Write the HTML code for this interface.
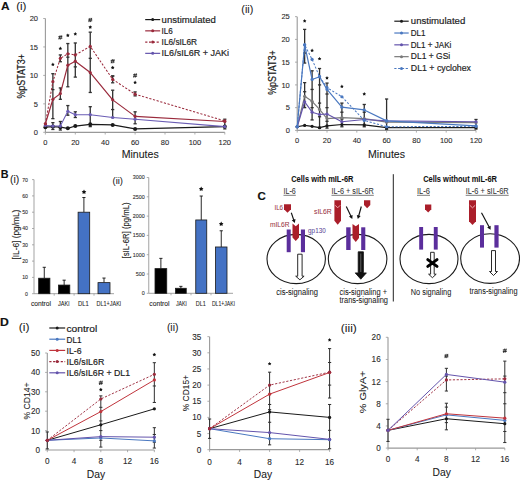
<!DOCTYPE html><html><head><meta charset="utf-8"><style>html,body{margin:0;padding:0;background:#fff;}svg{display:block;}text{font-family:"Liberation Sans",sans-serif;}</style></head><body>
<svg width="520" height="480" viewBox="0 0 520 480">
<rect width="520" height="480" fill="#fff"/>
<text x="1.00" y="9.80" font-size="10.60" font-weight="bold" fill="#111" stroke="#111" stroke-width="0.1" textLength="8.60" lengthAdjust="spacingAndGlyphs" >A</text>
<text x="16.20" y="9.60" font-size="10.60" fill="#222" stroke="#222" stroke-width="0.05" textLength="10.30" lengthAdjust="spacingAndGlyphs" >(i)</text>
<line x1="45.40" y1="18.50" x2="45.40" y2="132.30" stroke="#999999" stroke-width="1.1" />
<line x1="45.40" y1="132.30" x2="224.80" y2="132.30" stroke="#999999" stroke-width="1.2" />
<line x1="43.20" y1="132.30" x2="45.40" y2="132.30" stroke="#999999" stroke-width="0.8" />
<text x="38.00" y="135.00" font-size="7.50" text-anchor="end" fill="#2a2a2a" stroke="#2a2a2a" stroke-width="0.1" >0</text>
<line x1="43.20" y1="103.85" x2="45.40" y2="103.85" stroke="#999999" stroke-width="0.8" />
<text x="38.00" y="106.55" font-size="7.50" text-anchor="end" fill="#2a2a2a" stroke="#2a2a2a" stroke-width="0.1" >5</text>
<line x1="43.20" y1="75.40" x2="45.40" y2="75.40" stroke="#999999" stroke-width="0.8" />
<text x="38.00" y="78.10" font-size="7.50" text-anchor="end" fill="#2a2a2a" stroke="#2a2a2a" stroke-width="0.1" >10</text>
<line x1="43.20" y1="46.95" x2="45.40" y2="46.95" stroke="#999999" stroke-width="0.8" />
<text x="38.00" y="49.65" font-size="7.50" text-anchor="end" fill="#2a2a2a" stroke="#2a2a2a" stroke-width="0.1" >15</text>
<line x1="43.20" y1="18.50" x2="45.40" y2="18.50" stroke="#999999" stroke-width="0.8" />
<text x="38.00" y="21.20" font-size="7.50" text-anchor="end" fill="#2a2a2a" stroke="#2a2a2a" stroke-width="0.1" >20</text>
<line x1="45.40" y1="132.30" x2="45.40" y2="134.50" stroke="#999999" stroke-width="0.8" />
<text x="45.40" y="145.20" font-size="7.50" text-anchor="middle" fill="#2a2a2a" stroke="#2a2a2a" stroke-width="0.1" >0</text>
<line x1="75.30" y1="132.30" x2="75.30" y2="134.50" stroke="#999999" stroke-width="0.8" />
<text x="75.30" y="145.20" font-size="7.50" text-anchor="middle" fill="#2a2a2a" stroke="#2a2a2a" stroke-width="0.1" >20</text>
<line x1="105.20" y1="132.30" x2="105.20" y2="134.50" stroke="#999999" stroke-width="0.8" />
<text x="105.20" y="145.20" font-size="7.50" text-anchor="middle" fill="#2a2a2a" stroke="#2a2a2a" stroke-width="0.1" >40</text>
<line x1="135.10" y1="132.30" x2="135.10" y2="134.50" stroke="#999999" stroke-width="0.8" />
<text x="135.10" y="145.20" font-size="7.50" text-anchor="middle" fill="#2a2a2a" stroke="#2a2a2a" stroke-width="0.1" >60</text>
<line x1="165.00" y1="132.30" x2="165.00" y2="134.50" stroke="#999999" stroke-width="0.8" />
<text x="165.00" y="145.20" font-size="7.50" text-anchor="middle" fill="#2a2a2a" stroke="#2a2a2a" stroke-width="0.1" >80</text>
<line x1="194.90" y1="132.30" x2="194.90" y2="134.50" stroke="#999999" stroke-width="0.8" />
<text x="194.90" y="145.20" font-size="7.50" text-anchor="middle" fill="#2a2a2a" stroke="#2a2a2a" stroke-width="0.1" >100</text>
<line x1="224.80" y1="132.30" x2="224.80" y2="134.50" stroke="#999999" stroke-width="0.8" />
<text x="224.80" y="145.20" font-size="7.50" text-anchor="middle" fill="#2a2a2a" stroke="#2a2a2a" stroke-width="0.1" >120</text>
<text x="121.70" y="157.70" font-size="10.20" fill="#1a1a1a" stroke="#1a1a1a" stroke-width="0.08" textLength="37.00" lengthAdjust="spacingAndGlyphs" >Minutes</text>
<text x="24.90" y="76.30" font-size="10.80" text-anchor="middle" fill="#1a1a1a" stroke="#1a1a1a" stroke-width="0.2" textLength="44.50" lengthAdjust="spacingAndGlyphs" transform="rotate(-90 24.90 76.30)" >%pSTAT3+</text>
<line x1="52.88" y1="73.69" x2="52.88" y2="118.64" stroke="#303030" stroke-width="1.3" />
<line x1="51.27" y1="73.69" x2="54.48" y2="73.69" stroke="#303030" stroke-width="1.3" />
<line x1="51.27" y1="118.64" x2="54.48" y2="118.64" stroke="#303030" stroke-width="1.3" />
<line x1="51.27" y1="89.62" x2="54.48" y2="89.62" stroke="#303030" stroke-width="1.3" />
<line x1="60.35" y1="87.92" x2="60.35" y2="99.30" stroke="#303030" stroke-width="1.3" />
<line x1="58.75" y1="87.92" x2="61.95" y2="87.92" stroke="#303030" stroke-width="1.3" />
<line x1="58.75" y1="99.30" x2="61.95" y2="99.30" stroke="#303030" stroke-width="1.3" />
<line x1="60.35" y1="54.92" x2="60.35" y2="61.74" stroke="#303030" stroke-width="1.3" />
<line x1="58.75" y1="54.92" x2="61.95" y2="54.92" stroke="#303030" stroke-width="1.3" />
<line x1="58.75" y1="61.74" x2="61.95" y2="61.74" stroke="#303030" stroke-width="1.3" />
<line x1="112.68" y1="75.97" x2="112.68" y2="82.80" stroke="#303030" stroke-width="1.3" />
<line x1="111.08" y1="75.97" x2="114.28" y2="75.97" stroke="#303030" stroke-width="1.3" />
<line x1="111.08" y1="82.80" x2="114.28" y2="82.80" stroke="#303030" stroke-width="1.3" />
<line x1="135.10" y1="91.90" x2="135.10" y2="95.88" stroke="#303030" stroke-width="1.3" />
<line x1="133.50" y1="91.90" x2="136.70" y2="91.90" stroke="#303030" stroke-width="1.3" />
<line x1="133.50" y1="95.88" x2="136.70" y2="95.88" stroke="#303030" stroke-width="1.3" />
<line x1="67.83" y1="43.54" x2="67.83" y2="86.78" stroke="#303030" stroke-width="1.3" />
<line x1="66.23" y1="43.54" x2="69.42" y2="43.54" stroke="#303030" stroke-width="1.3" />
<line x1="66.23" y1="86.78" x2="69.42" y2="86.78" stroke="#303030" stroke-width="1.3" />
<line x1="66.23" y1="57.19" x2="69.42" y2="57.19" stroke="#303030" stroke-width="1.3" />
<line x1="75.30" y1="42.97" x2="75.30" y2="77.11" stroke="#303030" stroke-width="1.3" />
<line x1="73.70" y1="42.97" x2="76.90" y2="42.97" stroke="#303030" stroke-width="1.3" />
<line x1="73.70" y1="77.11" x2="76.90" y2="77.11" stroke="#303030" stroke-width="1.3" />
<line x1="73.70" y1="66.87" x2="76.90" y2="66.87" stroke="#303030" stroke-width="1.3" />
<line x1="90.25" y1="32.16" x2="90.25" y2="92.47" stroke="#303030" stroke-width="1.3" />
<line x1="88.65" y1="32.16" x2="91.85" y2="32.16" stroke="#303030" stroke-width="1.3" />
<line x1="88.65" y1="92.47" x2="91.85" y2="92.47" stroke="#303030" stroke-width="1.3" />
<line x1="88.65" y1="58.33" x2="91.85" y2="58.33" stroke="#303030" stroke-width="1.3" />
<line x1="112.68" y1="90.19" x2="112.68" y2="117.51" stroke="#303030" stroke-width="1.3" />
<line x1="111.08" y1="90.19" x2="114.28" y2="90.19" stroke="#303030" stroke-width="1.3" />
<line x1="111.08" y1="117.51" x2="114.28" y2="117.51" stroke="#303030" stroke-width="1.3" />
<line x1="111.08" y1="109.54" x2="114.28" y2="109.54" stroke="#303030" stroke-width="1.3" />
<line x1="111.08" y1="75.97" x2="114.28" y2="75.97" stroke="#303030" stroke-width="1.3" />
<line x1="135.10" y1="111.82" x2="135.10" y2="123.77" stroke="#303030" stroke-width="1.3" />
<line x1="133.50" y1="111.82" x2="136.70" y2="111.82" stroke="#303030" stroke-width="1.3" />
<line x1="133.50" y1="123.77" x2="136.70" y2="123.77" stroke="#303030" stroke-width="1.3" />
<line x1="224.80" y1="119.21" x2="224.80" y2="128.89" stroke="#303030" stroke-width="1.3" />
<line x1="223.20" y1="119.21" x2="226.40" y2="119.21" stroke="#303030" stroke-width="1.3" />
<line x1="223.20" y1="128.89" x2="226.40" y2="128.89" stroke="#303030" stroke-width="1.3" />
<line x1="67.83" y1="105.56" x2="67.83" y2="115.23" stroke="#303030" stroke-width="1.3" />
<line x1="66.23" y1="105.56" x2="69.42" y2="105.56" stroke="#303030" stroke-width="1.3" />
<line x1="66.23" y1="115.23" x2="69.42" y2="115.23" stroke="#303030" stroke-width="1.3" />
<line x1="75.30" y1="111.82" x2="75.30" y2="117.51" stroke="#303030" stroke-width="1.3" />
<line x1="73.70" y1="111.82" x2="76.90" y2="111.82" stroke="#303030" stroke-width="1.3" />
<line x1="73.70" y1="117.51" x2="76.90" y2="117.51" stroke="#303030" stroke-width="1.3" />
<line x1="90.25" y1="106.70" x2="90.25" y2="126.61" stroke="#303030" stroke-width="1.3" />
<line x1="88.65" y1="106.70" x2="91.85" y2="106.70" stroke="#303030" stroke-width="1.3" />
<line x1="88.65" y1="126.61" x2="91.85" y2="126.61" stroke="#303030" stroke-width="1.3" />
<line x1="52.88" y1="122.63" x2="52.88" y2="129.46" stroke="#303030" stroke-width="1.3" />
<line x1="51.27" y1="122.63" x2="54.48" y2="122.63" stroke="#303030" stroke-width="1.3" />
<line x1="51.27" y1="129.46" x2="54.48" y2="129.46" stroke="#303030" stroke-width="1.3" />
<line x1="60.35" y1="121.49" x2="60.35" y2="130.02" stroke="#303030" stroke-width="1.3" />
<line x1="58.75" y1="121.49" x2="61.95" y2="121.49" stroke="#303030" stroke-width="1.3" />
<line x1="58.75" y1="130.02" x2="61.95" y2="130.02" stroke="#303030" stroke-width="1.3" />
<polyline points="45.40,127.18 52.88,126.61 60.35,127.18 67.83,128.32 75.30,126.04 90.25,124.33 112.68,124.90 135.10,128.89 224.80,126.61" fill="none" stroke="#1a1a1a" stroke-width="1.2" stroke-linejoin="round"/>
<circle cx="45.40" cy="127.18" r="2.0" fill="#1a1a1a"/>
<circle cx="52.88" cy="126.61" r="2.0" fill="#1a1a1a"/>
<circle cx="60.35" cy="127.18" r="2.0" fill="#1a1a1a"/>
<circle cx="67.83" cy="128.32" r="2.0" fill="#1a1a1a"/>
<circle cx="75.30" cy="126.04" r="2.0" fill="#1a1a1a"/>
<circle cx="90.25" cy="124.33" r="2.0" fill="#1a1a1a"/>
<circle cx="112.68" cy="124.90" r="2.0" fill="#1a1a1a"/>
<circle cx="135.10" cy="128.89" r="2.0" fill="#1a1a1a"/>
<circle cx="224.80" cy="126.61" r="2.0" fill="#1a1a1a"/>
<polyline points="45.40,125.47 52.88,126.04 60.35,126.04 67.83,111.25 75.30,114.66 90.25,114.66 112.68,117.51 135.10,119.21 224.80,126.61" fill="none" stroke="#6a5cb4" stroke-width="1.05" stroke-linejoin="round"/>
<circle cx="45.40" cy="125.47" r="1.6" fill="#6a5cb4"/>
<circle cx="52.88" cy="126.04" r="1.6" fill="#6a5cb4"/>
<circle cx="60.35" cy="126.04" r="1.6" fill="#6a5cb4"/>
<circle cx="67.83" cy="111.25" r="1.6" fill="#6a5cb4"/>
<circle cx="75.30" cy="114.66" r="1.6" fill="#6a5cb4"/>
<circle cx="90.25" cy="114.66" r="1.6" fill="#6a5cb4"/>
<circle cx="112.68" cy="117.51" r="1.6" fill="#6a5cb4"/>
<circle cx="135.10" cy="119.21" r="1.6" fill="#6a5cb4"/>
<circle cx="224.80" cy="126.61" r="1.6" fill="#6a5cb4"/>
<polyline points="45.40,123.77 52.88,99.30 60.35,93.61 67.83,65.16 75.30,61.18 90.25,72.56 112.68,99.87 135.10,116.37 224.80,121.49" fill="none" stroke="#9a2a3c" stroke-width="1.2" stroke-linejoin="round"/>
<circle cx="45.40" cy="123.77" r="1.6" fill="#9a2a3c"/>
<circle cx="52.88" cy="99.30" r="1.6" fill="#9a2a3c"/>
<circle cx="60.35" cy="93.61" r="1.6" fill="#9a2a3c"/>
<circle cx="67.83" cy="65.16" r="1.6" fill="#9a2a3c"/>
<circle cx="75.30" cy="61.18" r="1.6" fill="#9a2a3c"/>
<circle cx="90.25" cy="72.56" r="1.6" fill="#9a2a3c"/>
<circle cx="112.68" cy="99.87" r="1.6" fill="#9a2a3c"/>
<circle cx="135.10" cy="116.37" r="1.6" fill="#9a2a3c"/>
<circle cx="224.80" cy="121.49" r="1.6" fill="#9a2a3c"/>
<polyline points="45.40,123.77 52.88,81.66 60.35,58.33 67.83,53.78 75.30,54.92 90.25,46.38 112.68,79.38 135.10,94.18 224.80,120.92" fill="none" stroke="#9a2a3c" stroke-width="1.02" stroke-dasharray="2.2,1.6" stroke-linejoin="round"/>
<circle cx="45.40" cy="123.77" r="1.6" fill="#9a2a3c"/>
<circle cx="52.88" cy="81.66" r="1.6" fill="#9a2a3c"/>
<circle cx="60.35" cy="58.33" r="1.6" fill="#9a2a3c"/>
<circle cx="67.83" cy="53.78" r="1.6" fill="#9a2a3c"/>
<circle cx="75.30" cy="54.92" r="1.6" fill="#9a2a3c"/>
<circle cx="90.25" cy="46.38" r="1.6" fill="#9a2a3c"/>
<circle cx="112.68" cy="79.38" r="1.6" fill="#9a2a3c"/>
<circle cx="135.10" cy="94.18" r="1.6" fill="#9a2a3c"/>
<circle cx="224.80" cy="120.92" r="1.6" fill="#9a2a3c"/>
<polygon points="52.88,62.60 53.49,63.65 54.68,63.91 53.87,64.82 53.99,66.04 52.88,65.55 51.76,66.04 51.88,64.82 51.07,63.91 52.26,63.65" fill="#111"/>
<line x1="58.35" y1="36.60" x2="62.35" y2="36.60" stroke="#222" stroke-width="0.85" />
<line x1="58.35" y1="38.20" x2="62.35" y2="38.20" stroke="#222" stroke-width="0.85" />
<line x1="60.15" y1="35.30" x2="58.95" y2="39.50" stroke="#222" stroke-width="0.85" />
<line x1="61.75" y1="35.30" x2="60.55" y2="39.50" stroke="#222" stroke-width="0.85" />
<polygon points="60.35,46.60 60.96,47.65 62.16,47.91 61.34,48.82 61.47,50.04 60.35,49.55 59.23,50.04 59.36,48.82 58.54,47.91 59.74,47.65" fill="#111"/>
<polygon points="67.83,33.50 68.44,34.55 69.63,34.81 68.82,35.72 68.94,36.94 67.83,36.45 66.71,36.94 66.83,35.72 66.02,34.81 67.21,34.55" fill="#111"/>
<polygon points="75.30,32.10 75.91,33.15 77.11,33.41 76.29,34.32 76.42,35.54 75.30,35.05 74.18,35.54 74.31,34.32 73.49,33.41 74.69,33.15" fill="#111"/>
<line x1="88.25" y1="19.20" x2="92.25" y2="19.20" stroke="#222" stroke-width="0.85" />
<line x1="88.25" y1="20.80" x2="92.25" y2="20.80" stroke="#222" stroke-width="0.85" />
<line x1="90.05" y1="17.90" x2="88.85" y2="22.10" stroke="#222" stroke-width="0.85" />
<line x1="91.65" y1="17.90" x2="90.45" y2="22.10" stroke="#222" stroke-width="0.85" />
<polygon points="90.25,25.30 90.86,26.35 92.06,26.61 91.24,27.52 91.37,28.74 90.25,28.24 89.13,28.74 89.26,27.52 88.44,26.61 89.64,26.35" fill="#111"/>
<line x1="110.68" y1="60.40" x2="114.68" y2="60.40" stroke="#222" stroke-width="0.85" />
<line x1="110.68" y1="62.00" x2="114.68" y2="62.00" stroke="#222" stroke-width="0.85" />
<line x1="112.48" y1="59.10" x2="111.28" y2="63.30" stroke="#222" stroke-width="0.85" />
<line x1="114.08" y1="59.10" x2="112.88" y2="63.30" stroke="#222" stroke-width="0.85" />
<polygon points="112.68,65.80 113.29,66.85 114.48,67.11 113.67,68.02 113.79,69.24 112.68,68.75 111.56,69.24 111.68,68.02 110.87,67.11 112.06,66.85" fill="#111"/>
<line x1="133.10" y1="74.70" x2="137.10" y2="74.70" stroke="#222" stroke-width="0.85" />
<line x1="133.10" y1="76.30" x2="137.10" y2="76.30" stroke="#222" stroke-width="0.85" />
<line x1="134.90" y1="73.40" x2="133.70" y2="77.60" stroke="#222" stroke-width="0.85" />
<line x1="136.50" y1="73.40" x2="135.30" y2="77.60" stroke="#222" stroke-width="0.85" />
<polygon points="135.10,80.60 135.71,81.65 136.91,81.91 136.09,82.82 136.22,84.04 135.10,83.55 133.98,84.04 134.11,82.82 133.29,81.91 134.49,81.65" fill="#111"/>
<line x1="145.20" y1="19.60" x2="160.20" y2="19.60" stroke="#1a1a1a" stroke-width="1.2" />
<circle cx="152.70" cy="19.60" r="1.5" fill="#1a1a1a"/>
<text x="161.60" y="22.50" font-size="9.23" fill="#222" stroke="#222" stroke-width="0.18" textLength="54.20" lengthAdjust="spacingAndGlyphs" >unstimulated</text>
<line x1="145.20" y1="30.85" x2="160.20" y2="30.85" stroke="#9a2a3c" stroke-width="1.2" />
<circle cx="152.70" cy="30.85" r="1.5" fill="#9a2a3c"/>
<text x="161.60" y="33.75" font-size="8.51" fill="#222" stroke="#222" stroke-width="0.18" textLength="11.30" lengthAdjust="spacingAndGlyphs" >IL6</text>
<line x1="145.20" y1="42.10" x2="160.20" y2="42.10" stroke="#9a2a3c" stroke-width="1.2" stroke-dasharray="2.2,1.6" />
<circle cx="152.70" cy="42.10" r="1.5" fill="#9a2a3c"/>
<text x="161.60" y="45.00" font-size="8.60" fill="#222" stroke="#222" stroke-width="0.18" textLength="35.50" lengthAdjust="spacingAndGlyphs" >IL6/sIL6R</text>
<line x1="145.20" y1="53.35" x2="160.20" y2="53.35" stroke="#6454ac" stroke-width="1.2" />
<circle cx="152.70" cy="53.35" r="1.5" fill="#6454ac"/>
<text x="161.60" y="56.25" font-size="8.96" fill="#222" stroke="#222" stroke-width="0.18" textLength="67.50" lengthAdjust="spacingAndGlyphs" >IL6/sIL6R + JAKi</text>
<text x="241.30" y="12.60" font-size="10.20" fill="#222" stroke="#222" stroke-width="0.05" textLength="12.00" lengthAdjust="spacingAndGlyphs" >(ii)</text>
<line x1="297.20" y1="16.65" x2="297.20" y2="130.40" stroke="#999999" stroke-width="1.1" />
<line x1="297.20" y1="130.40" x2="476.00" y2="130.40" stroke="#999999" stroke-width="1.2" />
<line x1="295.00" y1="130.40" x2="297.20" y2="130.40" stroke="#999999" stroke-width="0.8" />
<text x="289.80" y="133.10" font-size="7.50" text-anchor="end" fill="#2a2a2a" stroke="#2a2a2a" stroke-width="0.1" >0</text>
<line x1="295.00" y1="107.65" x2="297.20" y2="107.65" stroke="#999999" stroke-width="0.8" />
<text x="289.80" y="110.35" font-size="7.50" text-anchor="end" fill="#2a2a2a" stroke="#2a2a2a" stroke-width="0.1" >5</text>
<line x1="295.00" y1="84.90" x2="297.20" y2="84.90" stroke="#999999" stroke-width="0.8" />
<text x="289.80" y="87.60" font-size="7.50" text-anchor="end" fill="#2a2a2a" stroke="#2a2a2a" stroke-width="0.1" >10</text>
<line x1="295.00" y1="62.15" x2="297.20" y2="62.15" stroke="#999999" stroke-width="0.8" />
<text x="289.80" y="64.85" font-size="7.50" text-anchor="end" fill="#2a2a2a" stroke="#2a2a2a" stroke-width="0.1" >15</text>
<line x1="295.00" y1="39.40" x2="297.20" y2="39.40" stroke="#999999" stroke-width="0.8" />
<text x="289.80" y="42.10" font-size="7.50" text-anchor="end" fill="#2a2a2a" stroke="#2a2a2a" stroke-width="0.1" >20</text>
<line x1="295.00" y1="16.65" x2="297.20" y2="16.65" stroke="#999999" stroke-width="0.8" />
<text x="289.80" y="19.35" font-size="7.50" text-anchor="end" fill="#2a2a2a" stroke="#2a2a2a" stroke-width="0.1" >25</text>
<line x1="297.20" y1="130.40" x2="297.20" y2="132.60" stroke="#999999" stroke-width="0.8" />
<text x="297.20" y="143.00" font-size="7.50" text-anchor="middle" fill="#2a2a2a" stroke="#2a2a2a" stroke-width="0.1" >0</text>
<line x1="327.00" y1="130.40" x2="327.00" y2="132.60" stroke="#999999" stroke-width="0.8" />
<text x="327.00" y="143.00" font-size="7.50" text-anchor="middle" fill="#2a2a2a" stroke="#2a2a2a" stroke-width="0.1" >20</text>
<line x1="356.80" y1="130.40" x2="356.80" y2="132.60" stroke="#999999" stroke-width="0.8" />
<text x="356.80" y="143.00" font-size="7.50" text-anchor="middle" fill="#2a2a2a" stroke="#2a2a2a" stroke-width="0.1" >40</text>
<line x1="386.60" y1="130.40" x2="386.60" y2="132.60" stroke="#999999" stroke-width="0.8" />
<text x="386.60" y="143.00" font-size="7.50" text-anchor="middle" fill="#2a2a2a" stroke="#2a2a2a" stroke-width="0.1" >60</text>
<line x1="416.40" y1="130.40" x2="416.40" y2="132.60" stroke="#999999" stroke-width="0.8" />
<text x="416.40" y="143.00" font-size="7.50" text-anchor="middle" fill="#2a2a2a" stroke="#2a2a2a" stroke-width="0.1" >80</text>
<line x1="446.20" y1="130.40" x2="446.20" y2="132.60" stroke="#999999" stroke-width="0.8" />
<text x="446.20" y="143.00" font-size="7.50" text-anchor="middle" fill="#2a2a2a" stroke="#2a2a2a" stroke-width="0.1" >100</text>
<line x1="476.00" y1="130.40" x2="476.00" y2="132.60" stroke="#999999" stroke-width="0.8" />
<text x="476.00" y="143.00" font-size="7.50" text-anchor="middle" fill="#2a2a2a" stroke="#2a2a2a" stroke-width="0.1" >120</text>
<text x="368.00" y="157.50" font-size="10.20" fill="#1a1a1a" stroke="#1a1a1a" stroke-width="0.08" textLength="37.00" lengthAdjust="spacingAndGlyphs" >Minutes</text>
<text x="276.30" y="72.60" font-size="10.80" text-anchor="middle" fill="#1a1a1a" stroke="#1a1a1a" stroke-width="0.2" textLength="44.50" lengthAdjust="spacingAndGlyphs" transform="rotate(-90 276.30 72.60)" >%pSTAT3+</text>
<line x1="304.65" y1="29.39" x2="304.65" y2="63.06" stroke="#303030" stroke-width="1.3" />
<line x1="303.05" y1="29.39" x2="306.25" y2="29.39" stroke="#303030" stroke-width="1.3" />
<line x1="303.05" y1="63.06" x2="306.25" y2="63.06" stroke="#303030" stroke-width="1.3" />
<line x1="303.05" y1="53.05" x2="306.25" y2="53.05" stroke="#303030" stroke-width="1.3" />
<line x1="304.65" y1="82.62" x2="304.65" y2="107.65" stroke="#303030" stroke-width="1.3" />
<line x1="303.05" y1="82.62" x2="306.25" y2="82.62" stroke="#303030" stroke-width="1.3" />
<line x1="303.05" y1="107.65" x2="306.25" y2="107.65" stroke="#303030" stroke-width="1.3" />
<line x1="303.05" y1="91.73" x2="306.25" y2="91.73" stroke="#303030" stroke-width="1.3" />
<line x1="312.10" y1="70.80" x2="312.10" y2="119.94" stroke="#303030" stroke-width="1.3" />
<line x1="310.50" y1="70.80" x2="313.70" y2="70.80" stroke="#303030" stroke-width="1.3" />
<line x1="310.50" y1="119.94" x2="313.70" y2="119.94" stroke="#303030" stroke-width="1.3" />
<line x1="310.50" y1="107.65" x2="313.70" y2="107.65" stroke="#303030" stroke-width="1.3" />
<line x1="310.50" y1="89.45" x2="313.70" y2="89.45" stroke="#303030" stroke-width="1.3" />
<line x1="319.55" y1="68.52" x2="319.55" y2="128.12" stroke="#303030" stroke-width="1.3" />
<line x1="317.95" y1="68.52" x2="321.15" y2="68.52" stroke="#303030" stroke-width="1.3" />
<line x1="317.95" y1="128.12" x2="321.15" y2="128.12" stroke="#303030" stroke-width="1.3" />
<line x1="317.95" y1="116.75" x2="321.15" y2="116.75" stroke="#303030" stroke-width="1.3" />
<line x1="317.95" y1="103.10" x2="321.15" y2="103.10" stroke="#303030" stroke-width="1.3" />
<line x1="317.95" y1="84.90" x2="321.15" y2="84.90" stroke="#303030" stroke-width="1.3" />
<line x1="327.00" y1="83.08" x2="327.00" y2="128.12" stroke="#303030" stroke-width="1.3" />
<line x1="325.40" y1="83.08" x2="328.60" y2="83.08" stroke="#303030" stroke-width="1.3" />
<line x1="325.40" y1="128.12" x2="328.60" y2="128.12" stroke="#303030" stroke-width="1.3" />
<line x1="325.40" y1="121.30" x2="328.60" y2="121.30" stroke="#303030" stroke-width="1.3" />
<line x1="325.40" y1="107.65" x2="328.60" y2="107.65" stroke="#303030" stroke-width="1.3" />
<line x1="325.40" y1="94.00" x2="328.60" y2="94.00" stroke="#303030" stroke-width="1.3" />
<line x1="341.90" y1="103.10" x2="341.90" y2="126.76" stroke="#303030" stroke-width="1.3" />
<line x1="340.30" y1="103.10" x2="343.50" y2="103.10" stroke="#303030" stroke-width="1.3" />
<line x1="340.30" y1="126.76" x2="343.50" y2="126.76" stroke="#303030" stroke-width="1.3" />
<line x1="340.30" y1="119.03" x2="343.50" y2="119.03" stroke="#303030" stroke-width="1.3" />
<line x1="340.30" y1="112.20" x2="343.50" y2="112.20" stroke="#303030" stroke-width="1.3" />
<line x1="364.25" y1="104.47" x2="364.25" y2="126.76" stroke="#303030" stroke-width="1.3" />
<line x1="362.65" y1="104.47" x2="365.85" y2="104.47" stroke="#303030" stroke-width="1.3" />
<line x1="362.65" y1="126.76" x2="365.85" y2="126.76" stroke="#303030" stroke-width="1.3" />
<line x1="362.65" y1="119.03" x2="365.85" y2="119.03" stroke="#303030" stroke-width="1.3" />
<line x1="362.65" y1="112.20" x2="365.85" y2="112.20" stroke="#303030" stroke-width="1.3" />
<line x1="386.60" y1="99.01" x2="386.60" y2="129.49" stroke="#303030" stroke-width="1.3" />
<line x1="385.00" y1="99.01" x2="388.20" y2="99.01" stroke="#303030" stroke-width="1.3" />
<line x1="385.00" y1="129.49" x2="388.20" y2="129.49" stroke="#303030" stroke-width="1.3" />
<line x1="385.00" y1="121.30" x2="388.20" y2="121.30" stroke="#303030" stroke-width="1.3" />
<line x1="476.00" y1="119.48" x2="476.00" y2="129.03" stroke="#303030" stroke-width="1.3" />
<line x1="474.40" y1="119.48" x2="477.60" y2="119.48" stroke="#303030" stroke-width="1.3" />
<line x1="474.40" y1="129.03" x2="477.60" y2="129.03" stroke="#303030" stroke-width="1.3" />
<polyline points="297.20,126.76 304.65,125.40 312.10,126.31 319.55,127.67 327.00,125.85 341.90,124.48 364.25,124.94 386.60,127.67 476.00,127.67" fill="none" stroke="#1a1a1a" stroke-width="1.2" stroke-linejoin="round"/>
<circle cx="297.20" cy="126.76" r="1.6" fill="#1a1a1a"/>
<circle cx="304.65" cy="125.40" r="1.6" fill="#1a1a1a"/>
<circle cx="312.10" cy="126.31" r="1.6" fill="#1a1a1a"/>
<circle cx="319.55" cy="127.67" r="1.6" fill="#1a1a1a"/>
<circle cx="327.00" cy="125.85" r="1.6" fill="#1a1a1a"/>
<circle cx="341.90" cy="124.48" r="1.6" fill="#1a1a1a"/>
<circle cx="364.25" cy="124.94" r="1.6" fill="#1a1a1a"/>
<circle cx="386.60" cy="127.67" r="1.6" fill="#1a1a1a"/>
<circle cx="476.00" cy="127.67" r="1.6" fill="#1a1a1a"/>
<polyline points="297.20,126.76 304.65,96.28 312.10,101.28 319.55,109.47 327.00,118.57 341.90,117.66 364.25,118.57 386.60,122.21 476.00,122.67" fill="none" stroke="#7a7a7a" stroke-width="1.2" stroke-linejoin="round"/>
<circle cx="297.20" cy="126.76" r="1.6" fill="#7a7a7a"/>
<circle cx="304.65" cy="96.28" r="1.6" fill="#7a7a7a"/>
<circle cx="312.10" cy="101.28" r="1.6" fill="#7a7a7a"/>
<circle cx="319.55" cy="109.47" r="1.6" fill="#7a7a7a"/>
<circle cx="327.00" cy="118.57" r="1.6" fill="#7a7a7a"/>
<circle cx="341.90" cy="117.66" r="1.6" fill="#7a7a7a"/>
<circle cx="364.25" cy="118.57" r="1.6" fill="#7a7a7a"/>
<circle cx="386.60" cy="122.21" r="1.6" fill="#7a7a7a"/>
<circle cx="476.00" cy="122.67" r="1.6" fill="#7a7a7a"/>
<polyline points="297.20,126.76 304.65,101.74 312.10,112.20 319.55,114.48 327.00,114.02 341.90,121.76 364.25,119.48 386.60,120.84 476.00,121.76" fill="none" stroke="#6454ac" stroke-width="1.2" stroke-linejoin="round"/>
<circle cx="297.20" cy="126.76" r="1.6" fill="#6454ac"/>
<circle cx="304.65" cy="101.74" r="1.6" fill="#6454ac"/>
<circle cx="312.10" cy="112.20" r="1.6" fill="#6454ac"/>
<circle cx="319.55" cy="114.48" r="1.6" fill="#6454ac"/>
<circle cx="327.00" cy="114.02" r="1.6" fill="#6454ac"/>
<circle cx="341.90" cy="121.76" r="1.6" fill="#6454ac"/>
<circle cx="364.25" cy="119.48" r="1.6" fill="#6454ac"/>
<circle cx="386.60" cy="120.84" r="1.6" fill="#6454ac"/>
<circle cx="476.00" cy="121.76" r="1.6" fill="#6454ac"/>
<polyline points="297.20,126.76 304.65,44.86 312.10,79.44 319.55,76.71 327.00,89.45 341.90,107.20 364.25,109.93 386.60,120.84 476.00,125.85" fill="none" stroke="#4a78c0" stroke-width="1.2" stroke-linejoin="round"/>
<circle cx="297.20" cy="126.76" r="1.6" fill="#4a78c0"/>
<circle cx="304.65" cy="44.86" r="1.6" fill="#4a78c0"/>
<circle cx="312.10" cy="79.44" r="1.6" fill="#4a78c0"/>
<circle cx="319.55" cy="76.71" r="1.6" fill="#4a78c0"/>
<circle cx="327.00" cy="89.45" r="1.6" fill="#4a78c0"/>
<circle cx="341.90" cy="107.20" r="1.6" fill="#4a78c0"/>
<circle cx="364.25" cy="109.93" r="1.6" fill="#4a78c0"/>
<circle cx="386.60" cy="120.84" r="1.6" fill="#4a78c0"/>
<circle cx="476.00" cy="125.85" r="1.6" fill="#4a78c0"/>
<polyline points="297.20,126.76 304.65,44.86 312.10,59.42 319.55,76.71 327.00,87.63 341.90,96.73 364.25,120.39 386.60,126.76 476.00,126.31" fill="none" stroke="#4a78c0" stroke-width="1.02" stroke-dasharray="2.2,1.6" stroke-linejoin="round"/>
<circle cx="297.20" cy="126.76" r="1.6" fill="#4a78c0"/>
<circle cx="304.65" cy="44.86" r="1.6" fill="#4a78c0"/>
<circle cx="312.10" cy="59.42" r="1.6" fill="#4a78c0"/>
<circle cx="319.55" cy="76.71" r="1.6" fill="#4a78c0"/>
<circle cx="327.00" cy="87.63" r="1.6" fill="#4a78c0"/>
<circle cx="341.90" cy="96.73" r="1.6" fill="#4a78c0"/>
<circle cx="364.25" cy="120.39" r="1.6" fill="#4a78c0"/>
<circle cx="386.60" cy="126.76" r="1.6" fill="#4a78c0"/>
<circle cx="476.00" cy="126.31" r="1.6" fill="#4a78c0"/>
<polygon points="304.65,19.10 305.26,20.15 306.46,20.41 305.64,21.32 305.77,22.54 304.65,22.05 303.53,22.54 303.66,21.32 302.84,20.41 304.04,20.15" fill="#111"/>
<polygon points="312.10,48.60 312.71,49.65 313.91,49.91 313.09,50.82 313.22,52.04 312.10,51.55 310.98,52.04 311.11,50.82 310.29,49.91 311.49,49.65" fill="#111"/>
<polygon points="319.55,56.90 320.16,57.95 321.36,58.21 320.54,59.12 320.67,60.34 319.55,59.84 318.43,60.34 318.56,59.12 317.74,58.21 318.94,57.95" fill="#111"/>
<polygon points="327.00,76.10 327.61,77.15 328.81,77.41 327.99,78.32 328.12,79.54 327.00,79.05 325.88,79.54 326.01,78.32 325.19,77.41 326.39,77.15" fill="#111"/>
<polygon points="341.90,84.60 342.51,85.65 343.71,85.91 342.89,86.82 343.02,88.04 341.90,87.55 340.78,88.04 340.91,86.82 340.09,85.91 341.29,85.65" fill="#111"/>
<polygon points="364.25,92.10 364.86,93.15 366.06,93.41 365.24,94.32 365.37,95.54 364.25,95.05 363.13,95.54 363.26,94.32 362.44,93.41 363.64,93.15" fill="#111"/>
<line x1="394.30" y1="21.20" x2="408.70" y2="21.20" stroke="#1a1a1a" stroke-width="1.2" />
<circle cx="401.50" cy="21.20" r="1.5" fill="#1a1a1a"/>
<text x="410.80" y="23.90" font-size="9.26" fill="#222" stroke="#222" stroke-width="0.18" textLength="54.50" lengthAdjust="spacingAndGlyphs" >unstimulated</text>
<line x1="394.30" y1="33.02" x2="408.70" y2="33.02" stroke="#4a78c0" stroke-width="1.2" />
<circle cx="401.50" cy="33.02" r="1.5" fill="#4a78c0"/>
<text x="410.80" y="35.72" font-size="8.46" fill="#222" stroke="#222" stroke-width="0.18" textLength="14.70" lengthAdjust="spacingAndGlyphs" >DL1</text>
<line x1="394.30" y1="44.84" x2="408.70" y2="44.84" stroke="#6454ac" stroke-width="1.2" />
<circle cx="401.50" cy="44.84" r="1.5" fill="#6454ac"/>
<text x="410.80" y="47.54" font-size="8.49" fill="#222" stroke="#222" stroke-width="0.18" textLength="40.60" lengthAdjust="spacingAndGlyphs" >DL1 + JAKi</text>
<line x1="394.30" y1="56.66" x2="408.70" y2="56.66" stroke="#7a7a7a" stroke-width="1.2" />
<circle cx="401.50" cy="56.66" r="1.5" fill="#7a7a7a"/>
<text x="410.80" y="59.36" font-size="8.69" fill="#222" stroke="#222" stroke-width="0.18" textLength="39.40" lengthAdjust="spacingAndGlyphs" >DL1 + GSi</text>
<line x1="394.30" y1="68.48" x2="408.70" y2="68.48" stroke="#4a78c0" stroke-width="1.2" stroke-dasharray="2.2,1.6" />
<circle cx="401.50" cy="68.48" r="1.5" fill="#4a78c0"/>
<text x="410.80" y="71.18" font-size="8.83" fill="#222" stroke="#222" stroke-width="0.18" textLength="60.20" lengthAdjust="spacingAndGlyphs" >DL1 + cyclohex</text>
<text x="0.80" y="178.40" font-size="10.00" font-weight="bold" fill="#111" stroke="#111" stroke-width="0.1" textLength="7.80" lengthAdjust="spacingAndGlyphs" >B</text>
<text x="10.00" y="183.40" font-size="9.99" fill="#222" stroke="#222" stroke-width="0.05" textLength="9.40" lengthAdjust="spacingAndGlyphs" >(i)</text>
<line x1="34.00" y1="179.60" x2="34.00" y2="293.70" stroke="#999999" stroke-width="0.9" />
<line x1="34.00" y1="293.70" x2="114.00" y2="293.70" stroke="#999999" stroke-width="0.9" />
<line x1="32.00" y1="293.70" x2="34.00" y2="293.70" stroke="#999999" stroke-width="0.8" />
<text x="28.00" y="295.60" font-size="5.20" text-anchor="end" fill="#333" stroke="#333" stroke-width="0.1" >0</text>
<line x1="32.00" y1="277.40" x2="34.00" y2="277.40" stroke="#999999" stroke-width="0.8" />
<text x="28.00" y="279.30" font-size="5.20" text-anchor="end" fill="#333" stroke="#333" stroke-width="0.1" >10</text>
<line x1="32.00" y1="261.10" x2="34.00" y2="261.10" stroke="#999999" stroke-width="0.8" />
<text x="28.00" y="263.00" font-size="5.20" text-anchor="end" fill="#333" stroke="#333" stroke-width="0.1" >20</text>
<line x1="32.00" y1="244.80" x2="34.00" y2="244.80" stroke="#999999" stroke-width="0.8" />
<text x="28.00" y="246.70" font-size="5.20" text-anchor="end" fill="#333" stroke="#333" stroke-width="0.1" >30</text>
<line x1="32.00" y1="228.50" x2="34.00" y2="228.50" stroke="#999999" stroke-width="0.8" />
<text x="28.00" y="230.40" font-size="5.20" text-anchor="end" fill="#333" stroke="#333" stroke-width="0.1" >40</text>
<line x1="32.00" y1="212.20" x2="34.00" y2="212.20" stroke="#999999" stroke-width="0.8" />
<text x="28.00" y="214.10" font-size="5.20" text-anchor="end" fill="#333" stroke="#333" stroke-width="0.1" >50</text>
<line x1="32.00" y1="195.90" x2="34.00" y2="195.90" stroke="#999999" stroke-width="0.8" />
<text x="28.00" y="197.80" font-size="5.20" text-anchor="end" fill="#333" stroke="#333" stroke-width="0.1" >60</text>
<line x1="32.00" y1="179.60" x2="34.00" y2="179.60" stroke="#999999" stroke-width="0.8" />
<text x="28.00" y="181.50" font-size="5.20" text-anchor="end" fill="#333" stroke="#333" stroke-width="0.1" >70</text>
<line x1="54.20" y1="293.70" x2="54.20" y2="295.70" stroke="#999999" stroke-width="0.8" />
<line x1="74.10" y1="293.70" x2="74.10" y2="295.70" stroke="#999999" stroke-width="0.8" />
<line x1="94.00" y1="293.70" x2="94.00" y2="295.70" stroke="#999999" stroke-width="0.8" />
<text x="19.20" y="234.60" font-size="8.87" text-anchor="middle" fill="#1a1a1a" stroke="#1a1a1a" stroke-width="0.12" textLength="50.00" lengthAdjust="spacingAndGlyphs" transform="rotate(-90 19.20 234.60)" >[IL-6] (pg/mL)</text>
<line x1="44.27" y1="267.29" x2="44.27" y2="278.21" stroke="#111" stroke-width="0.9" />
<line x1="42.67" y1="267.29" x2="45.88" y2="267.29" stroke="#111" stroke-width="0.9" />
<rect x="38.65" y="278.21" width="11.25" height="15.48" fill="#000" stroke="#1a1a1a" stroke-width="0.8"/>
<line x1="64.15" y1="280.17" x2="64.15" y2="285.06" stroke="#111" stroke-width="0.9" />
<line x1="62.55" y1="280.17" x2="65.75" y2="280.17" stroke="#111" stroke-width="0.9" />
<rect x="58.50" y="285.06" width="11.30" height="8.64" fill="#000" stroke="#1a1a1a" stroke-width="0.8"/>
<line x1="83.90" y1="197.53" x2="83.90" y2="212.20" stroke="#111" stroke-width="0.9" />
<line x1="82.30" y1="197.53" x2="85.50" y2="197.53" stroke="#111" stroke-width="0.9" />
<rect x="78.10" y="212.20" width="11.60" height="81.50" fill="#4472c4" stroke="#1a1a1a" stroke-width="0.8"/>
<line x1="104.00" y1="278.05" x2="104.00" y2="282.62" stroke="#111" stroke-width="0.9" />
<line x1="102.40" y1="278.05" x2="105.60" y2="278.05" stroke="#111" stroke-width="0.9" />
<rect x="98.00" y="282.62" width="12.00" height="11.08" fill="#4472c4" stroke="#1a1a1a" stroke-width="0.8"/>
<polygon points="84.00,189.60 84.78,190.93 86.28,191.26 85.26,192.41 85.41,193.94 84.00,193.32 82.59,193.94 82.74,192.41 81.72,191.26 83.22,190.93" fill="#111"/>
<text x="30.90" y="305.60" font-size="7.00" fill="#222" stroke="#222" stroke-width="0.08" textLength="20.20" lengthAdjust="spacingAndGlyphs" >control</text>
<text x="58.00" y="305.60" font-size="7.00" fill="#222" stroke="#222" stroke-width="0.08" textLength="11.40" lengthAdjust="spacingAndGlyphs" >JAKi</text>
<text x="78.10" y="305.60" font-size="7.00" fill="#222" stroke="#222" stroke-width="0.08" textLength="10.70" lengthAdjust="spacingAndGlyphs" >DL1</text>
<text x="96.60" y="305.60" font-size="7.00" fill="#222" stroke="#222" stroke-width="0.08" textLength="24.40" lengthAdjust="spacingAndGlyphs" >DL1+JAKi</text>
<text x="112.50" y="183.60" font-size="9.43" fill="#222" stroke="#222" stroke-width="0.05" textLength="10.50" lengthAdjust="spacingAndGlyphs" >(ii)</text>
<line x1="148.75" y1="177.50" x2="148.75" y2="293.30" stroke="#999999" stroke-width="0.9" />
<line x1="148.75" y1="293.30" x2="233.00" y2="293.30" stroke="#999999" stroke-width="0.9" />
<line x1="146.75" y1="293.30" x2="148.75" y2="293.30" stroke="#999999" stroke-width="0.8" />
<text x="144.80" y="295.20" font-size="5.40" text-anchor="end" fill="#333" stroke="#333" stroke-width="0.1" >0</text>
<line x1="146.75" y1="274.00" x2="148.75" y2="274.00" stroke="#999999" stroke-width="0.8" />
<text x="144.80" y="275.90" font-size="5.40" text-anchor="end" fill="#333" stroke="#333" stroke-width="0.1" >500</text>
<line x1="146.75" y1="254.70" x2="148.75" y2="254.70" stroke="#999999" stroke-width="0.8" />
<text x="144.80" y="256.60" font-size="5.40" text-anchor="end" fill="#333" stroke="#333" stroke-width="0.1" >1000</text>
<line x1="146.75" y1="235.40" x2="148.75" y2="235.40" stroke="#999999" stroke-width="0.8" />
<text x="144.80" y="237.30" font-size="5.40" text-anchor="end" fill="#333" stroke="#333" stroke-width="0.1" >1500</text>
<line x1="146.75" y1="216.10" x2="148.75" y2="216.10" stroke="#999999" stroke-width="0.8" />
<text x="144.80" y="218.00" font-size="5.40" text-anchor="end" fill="#333" stroke="#333" stroke-width="0.1" >2000</text>
<line x1="146.75" y1="196.80" x2="148.75" y2="196.80" stroke="#999999" stroke-width="0.8" />
<text x="144.80" y="198.70" font-size="5.40" text-anchor="end" fill="#333" stroke="#333" stroke-width="0.1" >2500</text>
<line x1="146.75" y1="177.50" x2="148.75" y2="177.50" stroke="#999999" stroke-width="0.8" />
<text x="144.80" y="179.40" font-size="5.40" text-anchor="end" fill="#333" stroke="#333" stroke-width="0.1" >3000</text>
<line x1="171.00" y1="293.30" x2="171.00" y2="295.30" stroke="#999999" stroke-width="0.8" />
<line x1="191.00" y1="293.30" x2="191.00" y2="295.30" stroke="#999999" stroke-width="0.8" />
<line x1="211.00" y1="293.30" x2="211.00" y2="295.30" stroke="#999999" stroke-width="0.8" />
<text x="129.40" y="230.40" font-size="8.75" text-anchor="middle" fill="#1a1a1a" stroke="#1a1a1a" stroke-width="0.12" textLength="56.00" lengthAdjust="spacingAndGlyphs" transform="rotate(-90 129.40 230.40)" >[sIL-6R] (pg/mL)</text>
<line x1="160.88" y1="258.37" x2="160.88" y2="268.60" stroke="#111" stroke-width="0.9" />
<line x1="159.28" y1="258.37" x2="162.47" y2="258.37" stroke="#111" stroke-width="0.9" />
<rect x="155.00" y="268.60" width="11.75" height="24.70" fill="#000" stroke="#1a1a1a" stroke-width="0.8"/>
<line x1="180.88" y1="286.35" x2="180.88" y2="288.28" stroke="#111" stroke-width="0.9" />
<line x1="179.28" y1="286.35" x2="182.47" y2="286.35" stroke="#111" stroke-width="0.9" />
<rect x="175.50" y="288.28" width="10.75" height="5.02" fill="#000" stroke="#1a1a1a" stroke-width="0.8"/>
<line x1="201.25" y1="196.03" x2="201.25" y2="219.96" stroke="#111" stroke-width="0.9" />
<line x1="199.65" y1="196.03" x2="202.85" y2="196.03" stroke="#111" stroke-width="0.9" />
<rect x="195.75" y="219.96" width="11.00" height="73.34" fill="#4472c4" stroke="#1a1a1a" stroke-width="0.8"/>
<line x1="221.25" y1="230.77" x2="221.25" y2="246.98" stroke="#111" stroke-width="0.9" />
<line x1="219.65" y1="230.77" x2="222.85" y2="230.77" stroke="#111" stroke-width="0.9" />
<rect x="215.50" y="246.98" width="11.50" height="46.32" fill="#4472c4" stroke="#1a1a1a" stroke-width="0.8"/>
<polygon points="201.20,186.60 201.98,187.93 203.48,188.26 202.46,189.41 202.61,190.94 201.20,190.32 199.79,190.94 199.94,189.41 198.92,188.26 200.42,187.93" fill="#111"/>
<polygon points="221.20,221.60 221.98,222.93 223.48,223.26 222.46,224.41 222.61,225.94 221.20,225.32 219.79,225.94 219.94,224.41 218.92,223.26 220.42,222.93" fill="#111"/>
<text x="149.30" y="305.60" font-size="7.00" fill="#222" stroke="#222" stroke-width="0.08" textLength="20.20" lengthAdjust="spacingAndGlyphs" >control</text>
<text x="176.00" y="305.60" font-size="7.00" fill="#222" stroke="#222" stroke-width="0.08" textLength="10.80" lengthAdjust="spacingAndGlyphs" >JAKi</text>
<text x="195.70" y="305.60" font-size="7.00" fill="#222" stroke="#222" stroke-width="0.08" textLength="10.00" lengthAdjust="spacingAndGlyphs" >DL1</text>
<text x="211.90" y="305.60" font-size="7.00" fill="#222" stroke="#222" stroke-width="0.08" textLength="22.90" lengthAdjust="spacingAndGlyphs" >DL1+JAKi</text>
<text x="257.40" y="199.70" font-size="11.15" font-weight="bold" fill="#111" stroke="#111" stroke-width="0.18" textLength="8.30" lengthAdjust="spacingAndGlyphs" >C</text>
<text x="291.20" y="181.50" font-size="8.30" font-weight="bold" fill="#111" stroke="#111" stroke-width="0.05" textLength="62.30" lengthAdjust="spacingAndGlyphs" >Cells with mIL-6R</text>
<text x="423.20" y="181.50" font-size="8.30" font-weight="bold" fill="#111" stroke="#111" stroke-width="0.05" textLength="73.80" lengthAdjust="spacingAndGlyphs" >Cells without mIL-6R</text>
<line x1="393.30" y1="174.20" x2="393.30" y2="301.50" stroke="#222" stroke-width="1.0" />
<text x="283.50" y="194.20" font-size="8.40" fill="#333" stroke="#333" stroke-width="0.05" textLength="12.30" lengthAdjust="spacingAndGlyphs" >IL-6</text>
<line x1="283.50" y1="195.30" x2="295.80" y2="195.30" stroke="#444" stroke-width="0.7" />
<text x="331.50" y="194.20" font-size="8.40" fill="#333" stroke="#333" stroke-width="0.05" textLength="42.30" lengthAdjust="spacingAndGlyphs" >IL-6 + sIL-6R</text>
<line x1="331.50" y1="195.30" x2="373.80" y2="195.30" stroke="#444" stroke-width="0.7" />
<text x="417.00" y="194.20" font-size="8.40" fill="#333" stroke="#333" stroke-width="0.05" textLength="13.00" lengthAdjust="spacingAndGlyphs" >IL-6</text>
<line x1="417.00" y1="195.30" x2="430.00" y2="195.30" stroke="#444" stroke-width="0.7" />
<text x="465.70" y="194.20" font-size="8.40" fill="#333" stroke="#333" stroke-width="0.05" textLength="43.00" lengthAdjust="spacingAndGlyphs" >IL-6 + sIL-6R</text>
<line x1="465.70" y1="195.30" x2="508.70" y2="195.30" stroke="#444" stroke-width="0.7" />
<ellipse cx="296.2" cy="259.0" rx="29.2" ry="24.6" fill="none" stroke="#1a1a1a" stroke-width="1.1"/>
<ellipse cx="357.6" cy="259.0" rx="29.3" ry="24.6" fill="none" stroke="#1a1a1a" stroke-width="1.1"/>
<ellipse cx="429.0" cy="259.0" rx="29.0" ry="24.6" fill="none" stroke="#1a1a1a" stroke-width="1.1"/>
<ellipse cx="490.1" cy="258.6" rx="29.4" ry="24.8" fill="none" stroke="#1a1a1a" stroke-width="1.1"/>
<rect x="286.70" y="229.50" width="4.00" height="22.70" fill="#5b2e9c"/>
<rect x="300.90" y="229.50" width="4.10" height="22.70" fill="#5b2e9c"/>
<polygon points="292.5,223.6 295.75,226.3 299.0,223.6 299.0,237.4 295.75,241.1 292.5,237.4" fill="#aa1e2a"/>
<polygon points="284.0,204.3 291.0,204.3 291.0,209.3 287.5,212.8 284.0,209.3" fill="#aa1e2a"/>
<line x1="291.30" y1="212.80" x2="293.79" y2="220.07" stroke="#111" stroke-width="1.15" />
<polygon points="294.80,223.00 291.74,220.24 295.52,218.95" fill="#111"/>
<text x="274.40" y="209.90" font-size="7.20" fill="#9a3444" stroke="#9a3444" stroke-width="0.05" textLength="8.70" lengthAdjust="spacingAndGlyphs" >IL6</text>
<text x="270.00" y="226.60" font-size="7.20" fill="#9a3444" stroke="#9a3444" stroke-width="0.05" textLength="19.50" lengthAdjust="spacingAndGlyphs" >mIL6R</text>
<text x="308.10" y="232.80" font-size="7.20" fill="#5c4a98" stroke="#5c4a98" stroke-width="0.05" textLength="17.60" lengthAdjust="spacingAndGlyphs" >gp130</text>
<polygon points="297.70,254.20 302.10,254.20 302.10,276.20 304.10,276.20 299.90,279.80 295.70,276.20 297.70,276.20" fill="#fff" stroke="#111" stroke-width="0.9" stroke-linejoin="miter"/>
<text x="276.20" y="295.00" font-size="8.30" fill="#222" stroke="#222" stroke-width="0.05" textLength="41.80" lengthAdjust="spacingAndGlyphs" >cis-signaling</text>
<rect x="346.20" y="227.30" width="4.40" height="22.70" fill="#5b2e9c"/>
<rect x="361.20" y="227.30" width="4.10" height="22.70" fill="#5b2e9c"/>
<polygon points="352.5,224.0 355.75,226.3 359.0,224.0 359.0,238.1 355.75,241.9 352.5,238.1" fill="#aa1e2a"/>
<polygon points="334.4,200.3 341.0,200.3 341.0,220.8 337.7,224.8 334.4,220.8" fill="#aa1e2a"/>
<polyline points="335.2,205.3 337.7,207.8 340.2,205.3" fill="none" stroke="#eeaab2" stroke-width="1.0"/>
<polygon points="364.0,200.3 370.3,200.3 370.3,205.0 367.15,208.2 364.0,205.0" fill="#aa1e2a"/>
<text x="314.00" y="214.00" font-size="7.20" fill="#9a3444" stroke="#9a3444" stroke-width="0.05" textLength="17.70" lengthAdjust="spacingAndGlyphs" >sIL6R</text>
<line x1="346.30" y1="206.50" x2="350.96" y2="216.21" stroke="#111" stroke-width="1.15" />
<polygon points="352.30,219.00 348.94,216.62 352.55,214.89" fill="#111"/>
<line x1="361.30" y1="206.50" x2="358.64" y2="216.01" stroke="#111" stroke-width="1.15" />
<polygon points="357.80,219.00 356.84,214.99 360.70,216.07" fill="#111"/>
<polygon points="358.20,251.80 363.40,251.80 363.40,272.90 366.40,272.90 360.80,279.20 355.20,272.90 358.20,272.90" fill="#111" stroke="#111" stroke-width="0.8" stroke-linejoin="miter"/>
<line x1="360.80" y1="253.50" x2="360.80" y2="272.00" stroke="#777" stroke-width="0.8" />
<text x="339.50" y="295.00" font-size="8.30" fill="#222" stroke="#222" stroke-width="0.05" textLength="47.50" lengthAdjust="spacingAndGlyphs" >cis-signaling +</text>
<text x="339.50" y="302.80" font-size="8.30" fill="#222" stroke="#222" stroke-width="0.05" textLength="48.50" lengthAdjust="spacingAndGlyphs" >trans-signaling</text>
<rect x="419.20" y="227.00" width="3.90" height="22.60" fill="#5b2e9c"/>
<rect x="433.80" y="227.00" width="3.90" height="22.60" fill="#5b2e9c"/>
<polygon points="425.0,204.5 431.3,204.5 431.3,209.3 428.15,212.5 425.0,209.3" fill="#aa1e2a"/>
<polygon points="430.60,252.30 434.20,252.30 434.20,274.20 436.20,274.20 432.40,277.70 428.60,274.20 430.60,274.20" fill="#fff" stroke="#111" stroke-width="0.9" stroke-linejoin="miter"/>
<g transform="translate(432.4 263.0)"><path d="M-4.6,-3.4 L4.6,3.4 M4.6,-3.4 L-4.6,3.4" stroke="#000" stroke-width="3.0" stroke-linecap="round"/></g>
<text x="410.80" y="295.00" font-size="8.30" fill="#222" stroke="#222" stroke-width="0.05" textLength="40.50" lengthAdjust="spacingAndGlyphs" >No signaling</text>
<rect x="480.00" y="225.20" width="4.00" height="22.40" fill="#5b2e9c"/>
<rect x="494.40" y="225.20" width="4.20" height="22.40" fill="#5b2e9c"/>
<polygon points="469.0,200.3 476.0,200.3 476.0,221.3 472.5,225.0 469.0,221.3" fill="#aa1e2a"/>
<polyline points="469.8,205.3 472.5,207.8 475.2,205.3" fill="none" stroke="#eeaab2" stroke-width="1.0"/>
<line x1="481.50" y1="212.80" x2="489.14" y2="227.07" stroke="#111" stroke-width="1.15" />
<polygon points="490.60,229.80 487.14,227.57 490.66,225.68" fill="#111"/>
<polygon points="491.50,250.60 495.50,250.60 495.50,271.50 497.50,271.50 493.50,275.50 489.50,271.50 491.50,271.50" fill="#fff" stroke="#111" stroke-width="0.9" stroke-linejoin="miter"/>
<text x="469.50" y="293.80" font-size="8.30" fill="#222" stroke="#222" stroke-width="0.05" textLength="48.00" lengthAdjust="spacingAndGlyphs" >trans-signaling</text>
<text x="0.00" y="326.40" font-size="11.29" font-weight="bold" fill="#111" stroke="#111" stroke-width="0.18" textLength="8.80" lengthAdjust="spacingAndGlyphs" >D</text>
<text x="18.80" y="330.80" font-size="10.82" fill="#222" stroke="#222" stroke-width="0.05" textLength="10.70" lengthAdjust="spacingAndGlyphs" >(i)</text>
<text x="166.90" y="330.60" font-size="10.02" fill="#222" stroke="#222" stroke-width="0.05" textLength="11.60" lengthAdjust="spacingAndGlyphs" >(ii)</text>
<text x="340.80" y="332.20" font-size="10.84" fill="#222" stroke="#222" stroke-width="0.05" textLength="16.10" lengthAdjust="spacingAndGlyphs" >(iii)</text>
<line x1="47.30" y1="353.00" x2="47.30" y2="450.00" stroke="#999999" stroke-width="1.1" />
<line x1="47.30" y1="450.00" x2="154.34" y2="450.00" stroke="#999999" stroke-width="1.2" />
<line x1="45.10" y1="450.00" x2="47.30" y2="450.00" stroke="#999999" stroke-width="0.8" />
<text x="40.00" y="452.95" font-size="8.20" text-anchor="end" fill="#2a2a2a" stroke="#2a2a2a" stroke-width="0.1" >0</text>
<line x1="45.10" y1="430.60" x2="47.30" y2="430.60" stroke="#999999" stroke-width="0.8" />
<text x="40.00" y="433.55" font-size="8.20" text-anchor="end" fill="#2a2a2a" stroke="#2a2a2a" stroke-width="0.1" >10</text>
<line x1="45.10" y1="411.20" x2="47.30" y2="411.20" stroke="#999999" stroke-width="0.8" />
<text x="40.00" y="414.15" font-size="8.20" text-anchor="end" fill="#2a2a2a" stroke="#2a2a2a" stroke-width="0.1" >20</text>
<line x1="45.10" y1="391.80" x2="47.30" y2="391.80" stroke="#999999" stroke-width="0.8" />
<text x="40.00" y="394.75" font-size="8.20" text-anchor="end" fill="#2a2a2a" stroke="#2a2a2a" stroke-width="0.1" >30</text>
<line x1="45.10" y1="372.40" x2="47.30" y2="372.40" stroke="#999999" stroke-width="0.8" />
<text x="40.00" y="375.35" font-size="8.20" text-anchor="end" fill="#2a2a2a" stroke="#2a2a2a" stroke-width="0.1" >40</text>
<line x1="45.10" y1="353.00" x2="47.30" y2="353.00" stroke="#999999" stroke-width="0.8" />
<text x="40.00" y="355.95" font-size="8.20" text-anchor="end" fill="#2a2a2a" stroke="#2a2a2a" stroke-width="0.1" >50</text>
<line x1="47.30" y1="450.00" x2="47.30" y2="452.20" stroke="#999999" stroke-width="0.8" />
<text x="47.30" y="463.80" font-size="8.20" text-anchor="middle" fill="#2a2a2a" stroke="#2a2a2a" stroke-width="0.1" >0</text>
<line x1="74.06" y1="450.00" x2="74.06" y2="452.20" stroke="#999999" stroke-width="0.8" />
<text x="74.06" y="463.80" font-size="8.20" text-anchor="middle" fill="#2a2a2a" stroke="#2a2a2a" stroke-width="0.1" >4</text>
<line x1="100.82" y1="450.00" x2="100.82" y2="452.20" stroke="#999999" stroke-width="0.8" />
<text x="100.82" y="463.80" font-size="8.20" text-anchor="middle" fill="#2a2a2a" stroke="#2a2a2a" stroke-width="0.1" >8</text>
<line x1="127.58" y1="450.00" x2="127.58" y2="452.20" stroke="#999999" stroke-width="0.8" />
<text x="127.58" y="463.80" font-size="8.20" text-anchor="middle" fill="#2a2a2a" stroke="#2a2a2a" stroke-width="0.1" >12</text>
<line x1="154.34" y1="450.00" x2="154.34" y2="452.20" stroke="#999999" stroke-width="0.8" />
<text x="154.34" y="463.80" font-size="8.20" text-anchor="middle" fill="#2a2a2a" stroke="#2a2a2a" stroke-width="0.1" >16</text>
<text x="29.50" y="401.00" font-size="9.60" text-anchor="middle" fill="#1a1a1a" stroke="#1a1a1a" stroke-width="0.08" textLength="37.00" lengthAdjust="spacingAndGlyphs" transform="rotate(-90 29.50 401.00)" >% CD14+</text>
<text x="96.00" y="477.80" font-size="10.40" text-anchor="middle" fill="#1a1a1a" stroke="#1a1a1a" stroke-width="0.08" textLength="18.30" lengthAdjust="spacingAndGlyphs" >Day</text>
<line x1="47.30" y1="431.96" x2="47.30" y2="448.84" stroke="#303030" stroke-width="1.0" />
<line x1="45.70" y1="431.96" x2="48.90" y2="431.96" stroke="#303030" stroke-width="1.0" />
<line x1="45.70" y1="448.84" x2="48.90" y2="448.84" stroke="#303030" stroke-width="1.0" />
<line x1="100.82" y1="395.87" x2="100.82" y2="447.09" stroke="#303030" stroke-width="1.0" />
<line x1="99.22" y1="395.87" x2="102.42" y2="395.87" stroke="#303030" stroke-width="1.0" />
<line x1="99.22" y1="447.09" x2="102.42" y2="447.09" stroke="#303030" stroke-width="1.0" />
<line x1="99.22" y1="440.30" x2="102.42" y2="440.30" stroke="#303030" stroke-width="1.0" />
<line x1="99.22" y1="430.60" x2="102.42" y2="430.60" stroke="#303030" stroke-width="1.0" />
<line x1="99.22" y1="420.90" x2="102.42" y2="420.90" stroke="#303030" stroke-width="1.0" />
<line x1="99.22" y1="407.32" x2="102.42" y2="407.32" stroke="#303030" stroke-width="1.0" />
<line x1="154.34" y1="362.70" x2="154.34" y2="402.47" stroke="#303030" stroke-width="1.0" />
<line x1="152.74" y1="362.70" x2="155.94" y2="362.70" stroke="#303030" stroke-width="1.0" />
<line x1="152.74" y1="402.47" x2="155.94" y2="402.47" stroke="#303030" stroke-width="1.0" />
<line x1="152.74" y1="385.98" x2="155.94" y2="385.98" stroke="#303030" stroke-width="1.0" />
<line x1="154.34" y1="427.69" x2="154.34" y2="448.06" stroke="#303030" stroke-width="1.0" />
<line x1="152.74" y1="427.69" x2="155.94" y2="427.69" stroke="#303030" stroke-width="1.0" />
<line x1="152.74" y1="448.06" x2="155.94" y2="448.06" stroke="#303030" stroke-width="1.0" />
<line x1="152.74" y1="442.24" x2="155.94" y2="442.24" stroke="#303030" stroke-width="1.0" />
<line x1="152.74" y1="434.48" x2="155.94" y2="434.48" stroke="#303030" stroke-width="1.0" />
<polyline points="47.30,440.30 100.82,424.78 154.34,408.87" fill="none" stroke="#1a1a1a" stroke-width="1.0" stroke-linejoin="round"/>
<circle cx="47.30" cy="440.30" r="1.6" fill="#1a1a1a"/>
<circle cx="100.82" cy="424.78" r="1.6" fill="#1a1a1a"/>
<circle cx="154.34" cy="408.87" r="1.6" fill="#1a1a1a"/>
<polyline points="47.30,440.30 100.82,437.97 154.34,440.88" fill="none" stroke="#4a78c0" stroke-width="1.0" stroke-linejoin="round"/>
<circle cx="47.30" cy="440.30" r="1.6" fill="#4a78c0"/>
<circle cx="100.82" cy="437.97" r="1.6" fill="#4a78c0"/>
<circle cx="154.34" cy="440.88" r="1.6" fill="#4a78c0"/>
<polyline points="47.30,440.30 100.82,436.61 154.34,437.20" fill="none" stroke="#6454ac" stroke-width="1.0" stroke-linejoin="round"/>
<circle cx="47.30" cy="440.30" r="1.6" fill="#6454ac"/>
<circle cx="100.82" cy="436.61" r="1.6" fill="#6454ac"/>
<circle cx="154.34" cy="437.20" r="1.6" fill="#6454ac"/>
<polyline points="47.30,440.30 100.82,411.59 154.34,379.97" fill="none" stroke="#c0343c" stroke-width="1.0" stroke-linejoin="round"/>
<circle cx="47.30" cy="440.30" r="1.6" fill="#c0343c"/>
<circle cx="100.82" cy="411.59" r="1.6" fill="#c0343c"/>
<circle cx="154.34" cy="379.97" r="1.6" fill="#c0343c"/>
<polyline points="47.30,440.30 100.82,398.98 154.34,374.34" fill="none" stroke="#9a2a3c" stroke-width="0.935" stroke-dasharray="2.2,1.6" stroke-linejoin="round"/>
<circle cx="47.30" cy="440.30" r="1.6" fill="#9a2a3c"/>
<circle cx="100.82" cy="398.98" r="1.6" fill="#9a2a3c"/>
<circle cx="154.34" cy="374.34" r="1.6" fill="#9a2a3c"/>
<line x1="98.82" y1="382.00" x2="102.82" y2="382.00" stroke="#222" stroke-width="0.85" />
<line x1="98.82" y1="383.60" x2="102.82" y2="383.60" stroke="#222" stroke-width="0.85" />
<line x1="100.62" y1="380.70" x2="99.42" y2="384.90" stroke="#222" stroke-width="0.85" />
<line x1="102.22" y1="380.70" x2="101.02" y2="384.90" stroke="#222" stroke-width="0.85" />
<polygon points="100.82,387.80 101.43,388.85 102.63,389.11 101.81,390.02 101.94,391.24 100.82,390.75 99.70,391.24 99.83,390.02 99.01,389.11 100.21,388.85" fill="#111"/>
<polygon points="154.34,352.70 154.95,353.75 156.15,354.01 155.33,354.92 155.46,356.14 154.34,355.65 153.22,356.14 153.35,354.92 152.53,354.01 153.73,353.75" fill="#111"/>
<line x1="49.30" y1="328.00" x2="65.20" y2="328.00" stroke="#1a1a1a" stroke-width="1.2" />
<circle cx="57.20" cy="328.00" r="1.5" fill="#1a1a1a"/>
<text x="66.50" y="331.50" font-size="9.81" fill="#1a1a1a" stroke="#1a1a1a" stroke-width="0.18" textLength="30.70" lengthAdjust="spacingAndGlyphs" >control</text>
<line x1="49.30" y1="339.20" x2="65.20" y2="339.20" stroke="#4a78c0" stroke-width="1.2" />
<circle cx="57.20" cy="339.20" r="1.5" fill="#4a78c0"/>
<text x="66.50" y="342.70" font-size="8.79" fill="#1a1a1a" stroke="#1a1a1a" stroke-width="0.18" textLength="15.00" lengthAdjust="spacingAndGlyphs" >DL1</text>
<line x1="49.30" y1="350.40" x2="65.20" y2="350.40" stroke="#c0343c" stroke-width="1.2" />
<circle cx="57.20" cy="350.40" r="1.5" fill="#c0343c"/>
<text x="66.50" y="353.90" font-size="9.05" fill="#1a1a1a" stroke="#1a1a1a" stroke-width="0.18" textLength="15.00" lengthAdjust="spacingAndGlyphs" >IL-6</text>
<line x1="49.30" y1="361.60" x2="65.20" y2="361.60" stroke="#9a2a3c" stroke-width="1.2" stroke-dasharray="2.2,1.6" />
<circle cx="57.20" cy="361.60" r="1.5" fill="#9a2a3c"/>
<text x="66.50" y="365.10" font-size="9.12" fill="#1a1a1a" stroke="#1a1a1a" stroke-width="0.18" textLength="37.80" lengthAdjust="spacingAndGlyphs" >IL6/sIL6R</text>
<line x1="49.30" y1="372.80" x2="65.20" y2="372.80" stroke="#6454ac" stroke-width="1.2" />
<circle cx="57.20" cy="372.80" r="1.5" fill="#6454ac"/>
<text x="66.50" y="376.30" font-size="9.08" fill="#1a1a1a" stroke="#1a1a1a" stroke-width="0.18" textLength="63.50" lengthAdjust="spacingAndGlyphs" >IL6/sIL6R + DL1</text>
<line x1="209.60" y1="336.65" x2="209.60" y2="449.70" stroke="#999999" stroke-width="1.1" />
<line x1="209.60" y1="449.70" x2="329.60" y2="449.70" stroke="#999999" stroke-width="1.2" />
<line x1="207.40" y1="449.70" x2="209.60" y2="449.70" stroke="#999999" stroke-width="0.8" />
<text x="201.30" y="452.65" font-size="8.20" text-anchor="end" fill="#2a2a2a" stroke="#2a2a2a" stroke-width="0.1" >0</text>
<line x1="207.40" y1="433.55" x2="209.60" y2="433.55" stroke="#999999" stroke-width="0.8" />
<text x="201.30" y="436.50" font-size="8.20" text-anchor="end" fill="#2a2a2a" stroke="#2a2a2a" stroke-width="0.1" >5</text>
<line x1="207.40" y1="417.40" x2="209.60" y2="417.40" stroke="#999999" stroke-width="0.8" />
<text x="201.30" y="420.35" font-size="8.20" text-anchor="end" fill="#2a2a2a" stroke="#2a2a2a" stroke-width="0.1" >10</text>
<line x1="207.40" y1="401.25" x2="209.60" y2="401.25" stroke="#999999" stroke-width="0.8" />
<text x="201.30" y="404.20" font-size="8.20" text-anchor="end" fill="#2a2a2a" stroke="#2a2a2a" stroke-width="0.1" >15</text>
<line x1="207.40" y1="385.10" x2="209.60" y2="385.10" stroke="#999999" stroke-width="0.8" />
<text x="201.30" y="388.05" font-size="8.20" text-anchor="end" fill="#2a2a2a" stroke="#2a2a2a" stroke-width="0.1" >20</text>
<line x1="207.40" y1="368.95" x2="209.60" y2="368.95" stroke="#999999" stroke-width="0.8" />
<text x="201.30" y="371.90" font-size="8.20" text-anchor="end" fill="#2a2a2a" stroke="#2a2a2a" stroke-width="0.1" >25</text>
<line x1="207.40" y1="352.80" x2="209.60" y2="352.80" stroke="#999999" stroke-width="0.8" />
<text x="201.30" y="355.75" font-size="8.20" text-anchor="end" fill="#2a2a2a" stroke="#2a2a2a" stroke-width="0.1" >30</text>
<line x1="207.40" y1="336.65" x2="209.60" y2="336.65" stroke="#999999" stroke-width="0.8" />
<text x="201.30" y="339.60" font-size="8.20" text-anchor="end" fill="#2a2a2a" stroke="#2a2a2a" stroke-width="0.1" >35</text>
<line x1="209.60" y1="449.70" x2="209.60" y2="451.90" stroke="#999999" stroke-width="0.8" />
<text x="209.60" y="464.60" font-size="8.20" text-anchor="middle" fill="#2a2a2a" stroke="#2a2a2a" stroke-width="0.1" >0</text>
<line x1="239.60" y1="449.70" x2="239.60" y2="451.90" stroke="#999999" stroke-width="0.8" />
<text x="239.60" y="464.60" font-size="8.20" text-anchor="middle" fill="#2a2a2a" stroke="#2a2a2a" stroke-width="0.1" >4</text>
<line x1="269.60" y1="449.70" x2="269.60" y2="451.90" stroke="#999999" stroke-width="0.8" />
<text x="269.60" y="464.60" font-size="8.20" text-anchor="middle" fill="#2a2a2a" stroke="#2a2a2a" stroke-width="0.1" >8</text>
<line x1="299.60" y1="449.70" x2="299.60" y2="451.90" stroke="#999999" stroke-width="0.8" />
<text x="299.60" y="464.60" font-size="8.20" text-anchor="middle" fill="#2a2a2a" stroke="#2a2a2a" stroke-width="0.1" >12</text>
<line x1="329.60" y1="449.70" x2="329.60" y2="451.90" stroke="#999999" stroke-width="0.8" />
<text x="329.60" y="464.60" font-size="8.20" text-anchor="middle" fill="#2a2a2a" stroke="#2a2a2a" stroke-width="0.1" >16</text>
<text x="189.50" y="393.10" font-size="9.60" text-anchor="middle" fill="#1a1a1a" stroke="#1a1a1a" stroke-width="0.08" textLength="36.30" lengthAdjust="spacingAndGlyphs" transform="rotate(-90 189.50 393.10)" >% CD15+</text>
<text x="263.00" y="477.80" font-size="10.40" text-anchor="middle" fill="#1a1a1a" stroke="#1a1a1a" stroke-width="0.08" textLength="18.30" lengthAdjust="spacingAndGlyphs" >Day</text>
<line x1="209.60" y1="419.01" x2="209.60" y2="438.39" stroke="#303030" stroke-width="1.0" />
<line x1="208.00" y1="419.01" x2="211.20" y2="419.01" stroke="#303030" stroke-width="1.0" />
<line x1="208.00" y1="438.39" x2="211.20" y2="438.39" stroke="#303030" stroke-width="1.0" />
<line x1="269.60" y1="372.18" x2="269.60" y2="444.85" stroke="#303030" stroke-width="1.0" />
<line x1="268.00" y1="372.18" x2="271.20" y2="372.18" stroke="#303030" stroke-width="1.0" />
<line x1="268.00" y1="444.85" x2="271.20" y2="444.85" stroke="#303030" stroke-width="1.0" />
<line x1="268.00" y1="404.48" x2="271.20" y2="404.48" stroke="#303030" stroke-width="1.0" />
<line x1="268.00" y1="409.65" x2="271.20" y2="409.65" stroke="#303030" stroke-width="1.0" />
<line x1="268.00" y1="422.25" x2="271.20" y2="422.25" stroke="#303030" stroke-width="1.0" />
<line x1="329.60" y1="348.60" x2="329.60" y2="398.02" stroke="#303030" stroke-width="1.0" />
<line x1="328.00" y1="348.60" x2="331.20" y2="348.60" stroke="#303030" stroke-width="1.0" />
<line x1="328.00" y1="398.02" x2="331.20" y2="398.02" stroke="#303030" stroke-width="1.0" />
<line x1="328.00" y1="362.49" x2="331.20" y2="362.49" stroke="#303030" stroke-width="1.0" />
<line x1="328.00" y1="385.10" x2="331.20" y2="385.10" stroke="#303030" stroke-width="1.0" />
<line x1="329.60" y1="404.48" x2="329.60" y2="448.73" stroke="#303030" stroke-width="1.0" />
<line x1="328.00" y1="404.48" x2="331.20" y2="404.48" stroke="#303030" stroke-width="1.0" />
<line x1="328.00" y1="448.73" x2="331.20" y2="448.73" stroke="#303030" stroke-width="1.0" />
<line x1="328.00" y1="430.32" x2="331.20" y2="430.32" stroke="#303030" stroke-width="1.0" />
<polyline points="209.60,428.70 269.60,411.91 329.60,417.40" fill="none" stroke="#1a1a1a" stroke-width="1.0" stroke-linejoin="round"/>
<circle cx="209.60" cy="428.70" r="1.6" fill="#1a1a1a"/>
<circle cx="269.60" cy="411.91" r="1.6" fill="#1a1a1a"/>
<circle cx="329.60" cy="417.40" r="1.6" fill="#1a1a1a"/>
<polyline points="209.60,428.70 269.60,438.72 329.60,439.69" fill="none" stroke="#4a78c0" stroke-width="1.0" stroke-linejoin="round"/>
<circle cx="209.60" cy="428.70" r="1.6" fill="#4a78c0"/>
<circle cx="269.60" cy="438.72" r="1.6" fill="#4a78c0"/>
<circle cx="329.60" cy="439.69" r="1.6" fill="#4a78c0"/>
<polyline points="209.60,428.70 269.60,432.58 329.60,439.36" fill="none" stroke="#6454ac" stroke-width="1.0" stroke-linejoin="round"/>
<circle cx="209.60" cy="428.70" r="1.6" fill="#6454ac"/>
<circle cx="269.60" cy="432.58" r="1.6" fill="#6454ac"/>
<circle cx="329.60" cy="439.36" r="1.6" fill="#6454ac"/>
<polyline points="209.60,428.70 269.60,394.14 329.60,372.50" fill="none" stroke="#c0343c" stroke-width="1.0" stroke-linejoin="round"/>
<circle cx="209.60" cy="428.70" r="1.6" fill="#c0343c"/>
<circle cx="269.60" cy="394.14" r="1.6" fill="#c0343c"/>
<circle cx="329.60" cy="372.50" r="1.6" fill="#c0343c"/>
<polyline points="209.60,428.70 269.60,385.10 329.60,372.18" fill="none" stroke="#9a2a3c" stroke-width="0.935" stroke-dasharray="2.2,1.6" stroke-linejoin="round"/>
<circle cx="209.60" cy="428.70" r="1.6" fill="#9a2a3c"/>
<circle cx="269.60" cy="385.10" r="1.6" fill="#9a2a3c"/>
<circle cx="329.60" cy="372.18" r="1.6" fill="#9a2a3c"/>
<polygon points="269.60,361.90 270.21,362.95 271.41,363.21 270.59,364.12 270.72,365.34 269.60,364.85 268.48,365.34 268.61,364.12 267.79,363.21 268.99,362.95" fill="#111"/>
<polygon points="329.60,338.10 330.21,339.15 331.41,339.41 330.59,340.32 330.72,341.54 329.60,341.05 328.48,341.54 328.61,340.32 327.79,339.41 328.99,339.15" fill="#111"/>
<line x1="388.00" y1="337.30" x2="388.00" y2="448.10" stroke="#999999" stroke-width="1.1" />
<line x1="388.00" y1="448.10" x2="504.80" y2="448.10" stroke="#999999" stroke-width="1.2" />
<line x1="385.80" y1="448.10" x2="388.00" y2="448.10" stroke="#999999" stroke-width="0.8" />
<text x="380.70" y="451.05" font-size="8.20" text-anchor="end" fill="#2a2a2a" stroke="#2a2a2a" stroke-width="0.1" >0</text>
<line x1="385.80" y1="425.94" x2="388.00" y2="425.94" stroke="#999999" stroke-width="0.8" />
<text x="380.70" y="428.89" font-size="8.20" text-anchor="end" fill="#2a2a2a" stroke="#2a2a2a" stroke-width="0.1" >4</text>
<line x1="385.80" y1="403.78" x2="388.00" y2="403.78" stroke="#999999" stroke-width="0.8" />
<text x="380.70" y="406.73" font-size="8.20" text-anchor="end" fill="#2a2a2a" stroke="#2a2a2a" stroke-width="0.1" >8</text>
<line x1="385.80" y1="381.62" x2="388.00" y2="381.62" stroke="#999999" stroke-width="0.8" />
<text x="380.70" y="384.57" font-size="8.20" text-anchor="end" fill="#2a2a2a" stroke="#2a2a2a" stroke-width="0.1" >12</text>
<line x1="385.80" y1="359.46" x2="388.00" y2="359.46" stroke="#999999" stroke-width="0.8" />
<text x="380.70" y="362.41" font-size="8.20" text-anchor="end" fill="#2a2a2a" stroke="#2a2a2a" stroke-width="0.1" >16</text>
<line x1="385.80" y1="337.30" x2="388.00" y2="337.30" stroke="#999999" stroke-width="0.8" />
<text x="380.70" y="340.25" font-size="8.20" text-anchor="end" fill="#2a2a2a" stroke="#2a2a2a" stroke-width="0.1" >20</text>
<line x1="388.00" y1="448.10" x2="388.00" y2="450.30" stroke="#999999" stroke-width="0.8" />
<text x="388.00" y="462.00" font-size="8.20" text-anchor="middle" fill="#2a2a2a" stroke="#2a2a2a" stroke-width="0.1" >0</text>
<line x1="417.20" y1="448.10" x2="417.20" y2="450.30" stroke="#999999" stroke-width="0.8" />
<text x="417.20" y="462.00" font-size="8.20" text-anchor="middle" fill="#2a2a2a" stroke="#2a2a2a" stroke-width="0.1" >4</text>
<line x1="446.40" y1="448.10" x2="446.40" y2="450.30" stroke="#999999" stroke-width="0.8" />
<text x="446.40" y="462.00" font-size="8.20" text-anchor="middle" fill="#2a2a2a" stroke="#2a2a2a" stroke-width="0.1" >8</text>
<line x1="475.60" y1="448.10" x2="475.60" y2="450.30" stroke="#999999" stroke-width="0.8" />
<text x="475.60" y="462.00" font-size="8.20" text-anchor="middle" fill="#2a2a2a" stroke="#2a2a2a" stroke-width="0.1" >12</text>
<line x1="504.80" y1="448.10" x2="504.80" y2="450.30" stroke="#999999" stroke-width="0.8" />
<text x="504.80" y="462.00" font-size="8.20" text-anchor="middle" fill="#2a2a2a" stroke="#2a2a2a" stroke-width="0.1" >16</text>
<text x="366.40" y="391.90" font-size="9.80" text-anchor="middle" fill="#1a1a1a" stroke="#1a1a1a" stroke-width="0.08" textLength="42.50" lengthAdjust="spacingAndGlyphs" transform="rotate(-90 366.40 391.90)" >% GlyA+</text>
<text x="441.70" y="475.60" font-size="10.40" text-anchor="middle" fill="#1a1a1a" stroke="#1a1a1a" stroke-width="0.08" textLength="18.30" lengthAdjust="spacingAndGlyphs" >Day</text>
<line x1="388.00" y1="419.29" x2="388.00" y2="441.45" stroke="#303030" stroke-width="1.0" />
<line x1="386.40" y1="419.29" x2="389.60" y2="419.29" stroke="#303030" stroke-width="1.0" />
<line x1="386.40" y1="441.45" x2="389.60" y2="441.45" stroke="#303030" stroke-width="1.0" />
<line x1="446.40" y1="368.32" x2="446.40" y2="391.04" stroke="#303030" stroke-width="1.0" />
<line x1="444.80" y1="368.32" x2="448.00" y2="368.32" stroke="#303030" stroke-width="1.0" />
<line x1="444.80" y1="391.04" x2="448.00" y2="391.04" stroke="#303030" stroke-width="1.0" />
<line x1="444.80" y1="376.08" x2="448.00" y2="376.08" stroke="#303030" stroke-width="1.0" />
<line x1="446.40" y1="403.23" x2="446.40" y2="429.82" stroke="#303030" stroke-width="1.0" />
<line x1="444.80" y1="403.23" x2="448.00" y2="403.23" stroke="#303030" stroke-width="1.0" />
<line x1="444.80" y1="429.82" x2="448.00" y2="429.82" stroke="#303030" stroke-width="1.0" />
<line x1="444.80" y1="422.62" x2="448.00" y2="422.62" stroke="#303030" stroke-width="1.0" />
<line x1="444.80" y1="407.10" x2="448.00" y2="407.10" stroke="#303030" stroke-width="1.0" />
<line x1="504.80" y1="361.12" x2="504.80" y2="442.56" stroke="#303030" stroke-width="1.0" />
<line x1="503.20" y1="361.12" x2="506.40" y2="361.12" stroke="#303030" stroke-width="1.0" />
<line x1="503.20" y1="442.56" x2="506.40" y2="442.56" stroke="#303030" stroke-width="1.0" />
<line x1="503.20" y1="431.48" x2="506.40" y2="431.48" stroke="#303030" stroke-width="1.0" />
<line x1="503.20" y1="403.78" x2="506.40" y2="403.78" stroke="#303030" stroke-width="1.0" />
<line x1="503.20" y1="392.70" x2="506.40" y2="392.70" stroke="#303030" stroke-width="1.0" />
<line x1="503.20" y1="376.08" x2="506.40" y2="376.08" stroke="#303030" stroke-width="1.0" />
<polyline points="388.00,430.37 446.40,418.74 504.80,423.72" fill="none" stroke="#1a1a1a" stroke-width="1.0" stroke-linejoin="round"/>
<circle cx="388.00" cy="430.37" r="1.6" fill="#1a1a1a"/>
<circle cx="446.40" cy="418.74" r="1.6" fill="#1a1a1a"/>
<circle cx="504.80" cy="423.72" r="1.6" fill="#1a1a1a"/>
<polyline points="388.00,430.37 446.40,414.86 504.80,420.40" fill="none" stroke="#4a78c0" stroke-width="1.0" stroke-linejoin="round"/>
<circle cx="388.00" cy="430.37" r="1.6" fill="#4a78c0"/>
<circle cx="446.40" cy="414.86" r="1.6" fill="#4a78c0"/>
<circle cx="504.80" cy="420.40" r="1.6" fill="#4a78c0"/>
<polyline points="388.00,430.37 446.40,413.75 504.80,418.18" fill="none" stroke="#c0343c" stroke-width="1.0" stroke-linejoin="round"/>
<circle cx="388.00" cy="430.37" r="1.6" fill="#c0343c"/>
<circle cx="446.40" cy="413.75" r="1.6" fill="#c0343c"/>
<circle cx="504.80" cy="418.18" r="1.6" fill="#c0343c"/>
<polyline points="388.00,430.37 446.40,379.96 504.80,378.85" fill="none" stroke="#9a2a3c" stroke-width="0.935" stroke-dasharray="2.2,1.6" stroke-linejoin="round"/>
<circle cx="388.00" cy="430.37" r="1.6" fill="#9a2a3c"/>
<circle cx="446.40" cy="379.96" r="1.6" fill="#9a2a3c"/>
<circle cx="504.80" cy="378.85" r="1.6" fill="#9a2a3c"/>
<polyline points="388.00,430.37 446.40,374.42 504.80,382.17" fill="none" stroke="#6454ac" stroke-width="1.0" stroke-linejoin="round"/>
<circle cx="388.00" cy="430.37" r="1.6" fill="#6454ac"/>
<circle cx="446.40" cy="374.42" r="1.6" fill="#6454ac"/>
<circle cx="504.80" cy="382.17" r="1.6" fill="#6454ac"/>
<line x1="444.40" y1="355.20" x2="448.40" y2="355.20" stroke="#222" stroke-width="0.85" />
<line x1="444.40" y1="356.80" x2="448.40" y2="356.80" stroke="#222" stroke-width="0.85" />
<line x1="446.20" y1="353.90" x2="445.00" y2="358.10" stroke="#222" stroke-width="0.85" />
<line x1="447.80" y1="353.90" x2="446.60" y2="358.10" stroke="#222" stroke-width="0.85" />
<line x1="502.80" y1="349.90" x2="506.80" y2="349.90" stroke="#222" stroke-width="0.85" />
<line x1="502.80" y1="351.50" x2="506.80" y2="351.50" stroke="#222" stroke-width="0.85" />
<line x1="504.60" y1="348.60" x2="503.40" y2="352.80" stroke="#222" stroke-width="0.85" />
<line x1="506.20" y1="348.60" x2="505.00" y2="352.80" stroke="#222" stroke-width="0.85" />
</svg></body></html>
